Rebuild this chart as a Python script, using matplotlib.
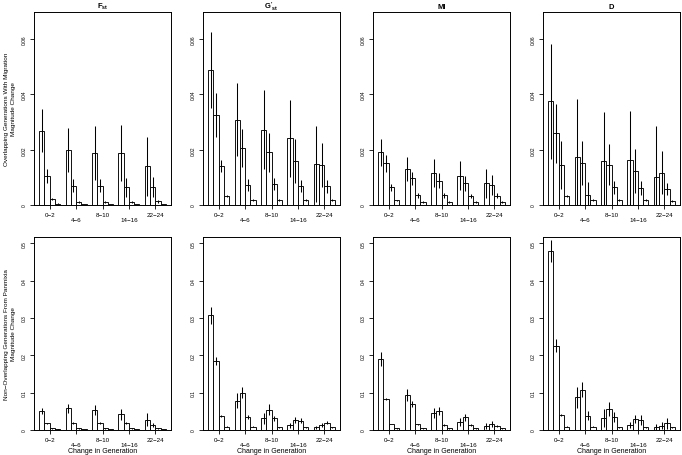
import numpy as np
import matplotlib.pyplot as plt

plt.rcParams['font.family'] = ['Liberation Sans', 'DejaVu Sans']
plt.rcParams['mathtext.fontset'] = 'custom'
plt.rcParams['mathtext.rm'] = 'Liberation Sans'
plt.rcParams['mathtext.bf'] = 'Liberation Sans:bold'
plt.rcParams['mathtext.it'] = 'Liberation Sans:italic'

groups = ['0\u22122', '4\u22126', '8\u221210', '14\u221216', '22\u221224']
titles = [r'$\mathbf{F_{st}}$', r"$\mathbf{G'_{st}}$", 'MI', 'D']
row_labels = ['Overlapping Generations With Migration\nMagnitude Change',
              'Non\u2212Overlapping Generations From Panmixia\nMagnitude Change']

# top row: overlapping generations with migration (5 groups x 4 bars)
fst_mig = [[0.0269, 0.0104, 0.0021, 0.0005], [0.0199, 0.0070, 0.0012, 0.0003],
           [0.0188, 0.0070, 0.0012, 0.0003], [0.0187, 0.0064, 0.0012, 0.0003],
           [0.0140, 0.0064, 0.0013, 0.0003]]
fst_mig_err = [[0.0078, 0.0026, 0.0004, 0.0001], [0.0080, 0.0024, 0.0003, 0.0001],
               [0.0097, 0.0024, 0.0003, 0.0001], [0.0102, 0.0035, 0.0003, 0.0001],
               [0.0106, 0.0036, 0.0004, 0.0001]]
gst_mig = [[0.0488, 0.0326, 0.0140, 0.0033], [0.0308, 0.0206, 0.0072, 0.0017],
           [0.0272, 0.0190, 0.0075, 0.0017], [0.0241, 0.0158, 0.0070, 0.0017],
           [0.0147, 0.0145, 0.0068, 0.0017]]
gst_mig_err = [[0.0137, 0.0080, 0.0021, 0.0003], [0.0132, 0.0070, 0.0022, 0.0003],
               [0.0143, 0.0071, 0.0022, 0.0003], [0.0138, 0.0080, 0.0022, 0.0003],
               [0.0137, 0.0080, 0.0023, 0.0004]]
mi_mig = [[0.0190, 0.0151, 0.0064, 0.0017], [0.0129, 0.0096, 0.0035, 0.0011],
          [0.0116, 0.0088, 0.0035, 0.0011], [0.0106, 0.0078, 0.0033, 0.0011],
          [0.0078, 0.0072, 0.0033, 0.0011]]
mi_mig_err = [[0.0048, 0.0031, 0.0012, 0.0002], [0.0043, 0.0025, 0.0008, 0.0002],
              [0.0052, 0.0028, 0.0008, 0.0002], [0.0053, 0.0028, 0.0008, 0.0002],
              [0.0054, 0.0035, 0.0009, 0.0002]]
d_mig = [[0.0376, 0.0259, 0.0145, 0.0033], [0.0173, 0.0152, 0.0037, 0.0018],
         [0.0159, 0.0146, 0.0064, 0.0017], [0.0164, 0.0122, 0.0060, 0.0017],
         [0.0100, 0.0116, 0.0058, 0.0015]]
d_mig_err = [[0.0208, 0.0106, 0.0088, 0.0004], [0.0210, 0.0080, 0.0045, 0.0004],
             [0.0176, 0.0073, 0.0023, 0.0004], [0.0176, 0.0080, 0.0025, 0.0004],
             [0.0187, 0.0078, 0.0022, 0.0004]]

# bottom row: non-overlapping generations from panmixia
fst_pan = [[0.0509, 0.0179, 0.0045, 0.0015], [0.0580, 0.0196, 0.0045, 0.0018],
           [0.0536, 0.0188, 0.0045, 0.0018], [0.0420, 0.0188, 0.0045, 0.0018],
           [0.0277, 0.0134, 0.0045, 0.0018]]
fst_pan_err = [[0.0070, 0.0020, 0.0008, 0.0003], [0.0120, 0.0030, 0.0008, 0.0003],
               [0.0140, 0.0030, 0.0008, 0.0003], [0.0140, 0.0030, 0.0008, 0.0003],
               [0.0165, 0.0045, 0.0008, 0.0003]]
gst_pan = [[0.307, 0.185, 0.038, 0.009], [0.0786, 0.100, 0.0357, 0.009],
           [0.031, 0.0545, 0.031, 0.007], [0.0125, 0.027, 0.025, 0.007],
           [0.007, 0.0134, 0.0196, 0.007]]
gst_pan_err = [[0.022, 0.010, 0.002, 0.001], [0.021, 0.014, 0.005, 0.001],
               [0.0155, 0.0145, 0.006, 0.001], [0.007, 0.007, 0.006, 0.001],
               [0.004, 0.006, 0.004, 0.001]]
mi_pan = [[0.190, 0.084, 0.016, 0.005], [0.094, 0.0696, 0.015, 0.0045],
          [0.0455, 0.050, 0.0134, 0.0045], [0.0205, 0.034, 0.0134, 0.0045],
          [0.010, 0.016, 0.0116, 0.0045]]
mi_pan_err = [[0.018, 0.003, 0.001, 0.001], [0.017, 0.009, 0.002, 0.001],
              [0.013, 0.011, 0.002, 0.001], [0.011, 0.009, 0.002, 0.001],
              [0.008, 0.007, 0.003, 0.001]]
d_pan = [[0.479, 0.226, 0.041, 0.009], [0.0875, 0.108, 0.0384, 0.009],
         [0.031, 0.056, 0.034, 0.007], [0.0125, 0.0295, 0.027, 0.007],
         [0.007, 0.0116, 0.018, 0.007]]
d_pan_err = [[0.030, 0.017, 0.003, 0.001], [0.029, 0.020, 0.012, 0.001],
             [0.024, 0.018, 0.013, 0.001], [0.008, 0.012, 0.014, 0.001],
             [0.008, 0.009, 0.014, 0.001]]

top_ticks = [0, 0.02, 0.04, 0.06]
top_ticklabels = ['0', '0.02', '0.04', '0.06']
bottom_ticks = [0, 0.1, 0.2, 0.3, 0.4, 0.5]
bottom_ticklabels = ['0', '0.1', '0.2', '0.3', '0.4', '0.5']

rows = [
    [(fst_mig, fst_mig_err), (gst_mig, gst_mig_err), (mi_mig, mi_mig_err), (d_mig, d_mig_err)],
    [(fst_pan, fst_pan_err), (gst_pan, gst_pan_err), (mi_pan, mi_pan_err), (d_pan, d_pan_err)],
]

fig = plt.figure(figsize=(6.82, 4.56), dpi=100)

lefts = [34, 203, 373, 543]
tops = [13, 238]
W, H = 137, 193

for r in range(2):
    for c in range(4):
        ax = fig.add_axes([lefts[c] / 682, 1 - (tops[r] + H) / 456, W / 682, H / 456])
        means = np.array(rows[r][c][0])
        errs = np.array(rows[r][c][1])
        for g in range(5):
            x = 1 + g * 5 + np.arange(4) + 0.5
            ax.bar(x, means[g], width=1, color='white', edgecolor='black',
                   linewidth=0.65, zorder=2)
            ax.errorbar(x, means[g], yerr=errs[g], fmt='none', ecolor='black',
                        elinewidth=0.75, capsize=0, zorder=3)
        ax.set_xlim(0.04, 25.96)
        if r == 0:
            ax.set_ylim(0, 0.0698)
            ax.set_yticks(top_ticks, top_ticklabels)
        else:
            ax.set_ylim(0, 0.517)
            ax.set_yticks(bottom_ticks, bottom_ticklabels)
        centers = [3 + 5 * g for g in range(5)]
        ax.set_xticks(centers[::2], groups[::2])
        ax.set_xticks(centers[1::2], groups[1::2], minor=True)
        ax.tick_params(axis='x', which='both', length=3, width=0.6,
                       labelsize=4.5, pad=2)
        ax.tick_params(axis='x', which='minor', pad=5.5)
        ax.tick_params(axis='y', length=3, width=0.6, labelsize=3.5, pad=2)
        for lab in ax.get_yticklabels():
            lab.set_rotation(90)
            lab.set_va('center')
        for s in ax.spines.values():
            s.set_linewidth(0.7)
        if r == 0:
            ax.set_title(titles[c], fontsize=5.5, fontweight='bold', pad=3)
        if c == 0:
            ax.set_ylabel(row_labels[r], fontsize=4.6, labelpad=4, linespacing=1.5)
        if r == 1:
            ax.set_xlabel('Change in Generation', fontsize=5, labelpad=0)

fig.savefig('out.png', dpi=100)
